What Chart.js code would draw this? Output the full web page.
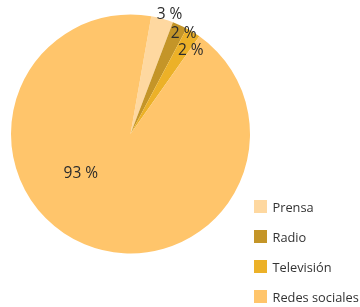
<!DOCTYPE html>
<html>
<head>
<meta charset="utf-8">
<script src="https://cdn.jsdelivr.net/npm/chart.js@4"></script>
<style>
  html, body { margin: 0; padding: 0; background: #fff; }
  #wrap { position: relative; width: 360px; height: 307px; }
  #legend { position: absolute; left: 254px; top: 200px; font-family: "Open Sans", sans-serif; font-size: 12.8px; color: #333; }
  .item { display: flex; align-items: center; height: 13px; margin-bottom: 17px; white-space: nowrap; }
  .box { width: 12.5px; height: 12.5px; margin-right: 6px; flex: none; }
</style>
</head>
<body>
<div id="wrap">
  <canvas id="pieChart" width="360" height="307"></canvas>
  <div id="legend"></div>
</div>
<script>
// data
const categories = ['Prensa', 'Radio', 'Televisión', 'Redes sociales'];
const shares = [3, 2, 2, 93];
const sliceColors = ['#FED8A0', '#C49528', '#ECB128', '#FFC56B'];

// label placement along each slice (radius factor, extra angle in degrees)
const labelRadius = [1.05, 0.95, 0.86, 0.53];
const labelShift = [2.7, 3.5, 4.3, 29];

// percentage labels drawn from the arc elements
const pctLabels = {
  id: 'pctLabels',
  afterDatasetsDraw(chart) {
    const { ctx } = chart;
    const arcs = chart.getDatasetMeta(0).data;
    ctx.save();
    ctx.font = '15.5px "Open Sans", sans-serif';
    ctx.fillStyle = '#2b2b2b';
    ctx.textAlign = 'center';
    ctx.textBaseline = 'middle';
    arcs.forEach((arc, i) => {
      const { x, y, startAngle, endAngle, outerRadius } = arc.getProps(['x', 'y', 'startAngle', 'endAngle', 'outerRadius'], true);
      const mid = (startAngle + endAngle) / 2 + labelShift[i] * Math.PI / 180;
      const r = outerRadius * labelRadius[i];
      ctx.fillText(shares[i] + ' %', x + Math.cos(mid) * r, y + Math.sin(mid) * r);
    });
    ctx.restore();
  },
};

const ctx = document.getElementById('pieChart').getContext('2d');
new Chart(ctx, {
  type: 'pie',
  data: {
    labels: categories,
    datasets: [
      {
        data: shares,
        backgroundColor: sliceColors,
        borderWidth: 0,
        hoverOffset: 0,
      },
    ],
  },
  options: {
    responsive: false,
    animation: false,
    rotation: 10,
    layout: { padding: { left: 11, top: 14.5, right: 110, bottom: 53.5 } },
    plugins: {
      legend: { display: false },
      tooltip: { enabled: false },
    },
  },
  plugins: [pctLabels],
});

// legend built from the same arrays
const legend = document.getElementById('legend');
categories.forEach((name, i) => {
  const row = document.createElement('div');
  row.className = 'item';
  const box = document.createElement('span');
  box.className = 'box';
  box.style.background = sliceColors[i];
  row.appendChild(box);
  row.appendChild(document.createTextNode(name));
  legend.appendChild(row);
});
</script>
</body>
</html>
